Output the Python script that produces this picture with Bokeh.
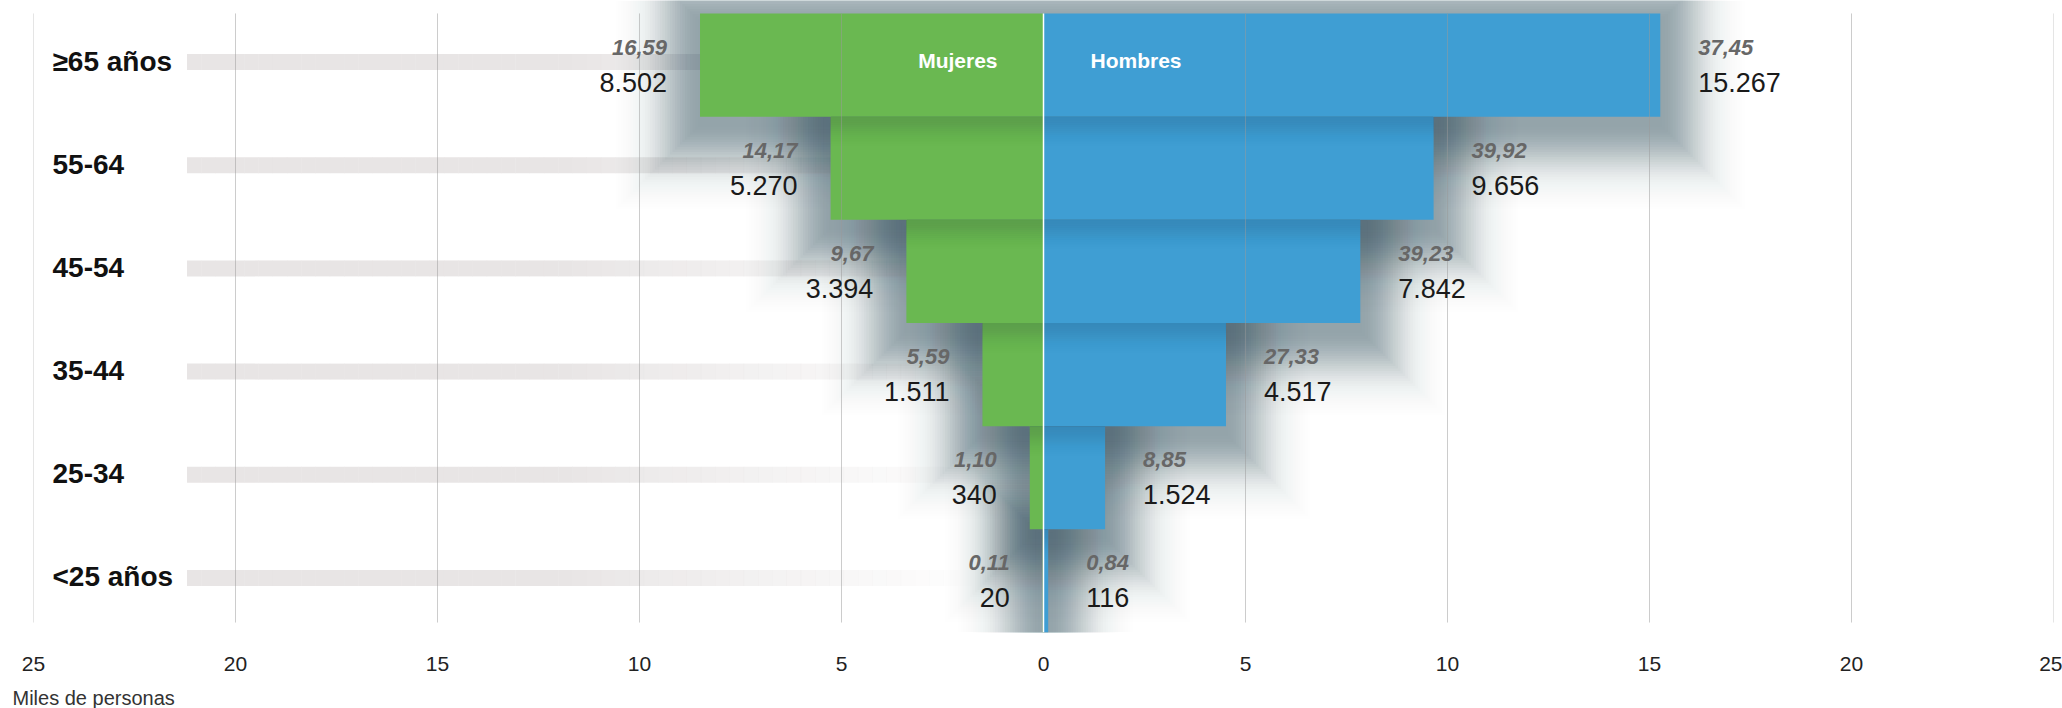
import math
from bokeh.plotting import figure
from bokeh.models import Range1d, FixedTicker, Title, ColumnDataSource
from bokeh.core.properties import value
from bokeh.embed import file_html
from bokeh.resources import INLINE

# ---------------- data ----------------
age_groups = ["≥65 años", "55-64", "45-54", "35-44", "25-34", "<25 años"]
mujeres = [8.502, 5.270, 3.394, 1.511, 0.340, 0.020]      # miles de personas
hombres = [15.267, 9.656, 7.842, 4.517, 1.524, 0.116]     # miles de personas
mujeres_pct = ["16,59", "14,17", "9,67", "5,59", "1,10", "0,11"]
hombres_pct = ["37,45", "39,92", "39,23", "27,33", "8,85", "0,84"]
x_ticks = [-25, -20, -15, -10, -5, 0, 5, 10, 15, 20, 25]
series_names = ["Mujeres", "Hombres"]

# ---------------- style / layout ----------------
GREEN = "#6ab851"
BLUE = "#3f9ed3"
TRACK = "#e8e5e5"
SHADOW = "#2f4858"
FONT = "Liberation Sans"

W, H = 2062, 708
BL, BR, BT, BB = 33, 9, 0, 75
FRAME_W = W - BL - BR
FRAME_H = H - BT - BB
TOP_PAD = 13
N = len(age_groups)
PX_Y = (FRAME_H - TOP_PAD) / N
Y_TOP = FRAME_H / PX_Y
X0, X1 = -25, 25
PX_X = FRAME_W / (X1 - X0)

yc = [N - 0.5 - i for i in range(N)]
neg_m = [-v for v in mujeres]


def miles(v):
    return f"{round(v * 1000):,}".replace(",", ".")


p = figure(width=W, height=H, output_backend="svg", toolbar_location=None,
           x_range=Range1d(X0, X1), y_range=Range1d(0, Y_TOP),
           y_axis_location=None, min_border_left=BL, min_border_right=BR,
           min_border_top=BT, min_border_bottom=BB)
p.outline_line_color = None
p.background_fill_color = "white"
p.border_fill_color = "white"
p.xgrid.visible = False
p.ygrid.visible = False

# gray background tracks (fading towards the centre)
TRACK_START = -21.2
FADE_FROM, FADE_TO = -12.0, -1.5
steps = 60
tl, tr, ty, ta = [], [], [], []
for r in range(N):
    for s in range(steps):
        a0 = TRACK_START + (0 - TRACK_START) * s / steps
        a1 = TRACK_START + (0 - TRACK_START) * (s + 1) / steps
        mid = (a0 + a1) / 2
        if mid <= FADE_FROM:
            al = 1.0
        elif mid >= FADE_TO:
            al = 0.0
        else:
            al = (FADE_TO - mid) / (FADE_TO - FADE_FROM)
        if al <= 0:
            continue
        tl.append(a0)
        tr.append(a1 + 0.01)
        ty.append(yc[r] + 3 / PX_Y)
        ta.append(al)
p.hbar(y=ty, left=tl, right=tr, height=16 / PX_Y, fill_color=TRACK,
       fill_alpha=ta, line_color=None)


def stacked_alphas(dists, opac):
    """alpha of each stacked layer so that the summed opacity follows opac(d)."""
    out = []
    for k, d in enumerate(dists):
        t_in = 1 - opac(d)
        t_out = 1 - opac(dists[k + 1]) if k + 1 < len(dists) else 1.0
        out.append(max(0.0, 1 - t_in / t_out))
    return out


# soft (gaussian-like) shadow around the bars, built from stacked layers
SH_A, SH_S, SH_STEP, SH_MAX, DROP = 0.45, 42.0, 2.5, 110.0, 8
dists = [SH_STEP * k for k in range(0, int(SH_MAX / SH_STEP) + 1)]
layer_alpha = stacked_alphas(dists, lambda d: SH_A * math.exp(-(d / SH_S) ** 2))
sl, sr, sb, st, sa = [], [], [], [], []
for k in range(len(dists) - 1, 0, -1):
    e = dists[k]
    for r in range(N):
        sl.append(neg_m[r] - e / PX_X)
        sr.append(hombres[r] + e / PX_X)
        sb.append(yc[r] - 0.5 - (e + DROP) / PX_Y)
        st.append(yc[r] + 0.5 + (e - DROP) / PX_Y)
        sa.append(layer_alpha[k - 1])
p.quad(left=sl, right=sr, bottom=sb, top=st, fill_color=SHADOW,
       fill_alpha=sa, line_color=None)

# bars
src = ColumnDataSource(dict(y=yc, m=neg_m, h=hombres, zero=[0] * N))
p.hbar(y="y", left="m", right="zero", height=1.0, source=src,
       fill_color=GREEN, line_color=None)
p.hbar(y="y", left="zero", right="h", height=1.0, source=src,
       fill_color=BLUE, line_color=None)

# faint shading cast by each bar onto the top of the bar below it
C_A, C_S, C_STEP, C_MAX = 0.16, 16.0, 2.0, 40.0
cd = [C_STEP * k for k in range(0, int(C_MAX / C_STEP) + 1)]
ca_l = stacked_alphas(cd, lambda d: C_A * math.exp(-(d / C_S) ** 2))
cl, cr, cb, ct, ca = [], [], [], [], []
for k in range(len(cd) - 1, 0, -1):
    for r in range(1, N):
        cl.append(neg_m[r])
        cr.append(hombres[r])
        ct.append(yc[r] + 0.5)
        cb.append(yc[r] + 0.5 - cd[k] / PX_Y)
        ca.append(ca_l[k - 1])
p.quad(left=cl, right=cr, bottom=cb, top=ct, fill_color=SHADOW,
       fill_alpha=ca, line_color=None)

# vertical grid lines drawn above the bars
gx = [t for t in x_ticks if t != 0]
p.segment(x0=gx, x1=gx, y0=[10 / PX_Y] * len(gx), y1=[N] * len(gx),
          line_color="#999999", line_alpha=0.5, line_width=1)
# white centre line
p.segment(x0=[0], x1=[0], y0=[0], y1=[N], line_color="white", line_width=1.5)

# row labels
p.text(x=[X0] * N, y=yc, text=age_groups, x_offset=19, y_offset=-4,
       text_align="left", text_baseline="middle",
       text_font=value(FONT), text_font_style="bold",
       text_font_size="28px", text_color="#111111")

# women labels
p.text(x=neg_m, y=yc, text=mujeres_pct, x_offset=-33, y_offset=-18,
       text_align="right", text_baseline="middle", text_font=value(FONT),
       text_font_style="bold italic", text_font_size="22px",
       text_color="#676767")
p.text(x=neg_m, y=yc, text=[miles(v) for v in mujeres], x_offset=-33,
       y_offset=17, text_align="right", text_baseline="middle",
       text_font=value(FONT), text_font_size="27px", text_color="#1a1a1a")

# men labels
p.text(x=hombres, y=yc, text=hombres_pct, x_offset=38, y_offset=-18,
       text_align="left", text_baseline="middle", text_font=value(FONT),
       text_font_style="bold italic", text_font_size="22px",
       text_color="#676767")
p.text(x=hombres, y=yc, text=[miles(v) for v in hombres], x_offset=38,
       y_offset=17, text_align="left", text_baseline="middle",
       text_font=value(FONT), text_font_size="27px", text_color="#1a1a1a")

# series names inside the top bars
p.text(x=[0, 0], y=[yc[0], yc[0]], text=series_names, x_offset=[-46, 47],
       y_offset=-5, text_align=["right", "left"], text_baseline="middle",
       text_font=value(FONT), text_font_style="bold", text_font_size="21px",
       text_color="white")

# x axis
ax = p.xaxis[0]
ax.ticker = FixedTicker(ticks=x_ticks)
ax.major_label_overrides = {t: str(abs(t)) for t in x_ticks}
ax.axis_line_color = None
ax.major_tick_line_color = None
ax.minor_tick_line_color = None
ax.major_tick_out = 0
ax.major_label_standoff = 24
ax.major_label_text_font = FONT
ax.major_label_text_font_size = "21px"
ax.major_label_text_color = "#222222"

# small spacer, then the unit note
p.add_layout(Title(text=" ", text_font_size="8px", standoff=0), "below")
p.add_layout(Title(text="Miles de personas", align="left", offset=-21,
                   text_font=FONT, text_font_size="20px",
                   text_font_style="normal", text_color="#333333",
                   standoff=0), "below")

open("out.html", "w").write(file_html(p, INLINE))
